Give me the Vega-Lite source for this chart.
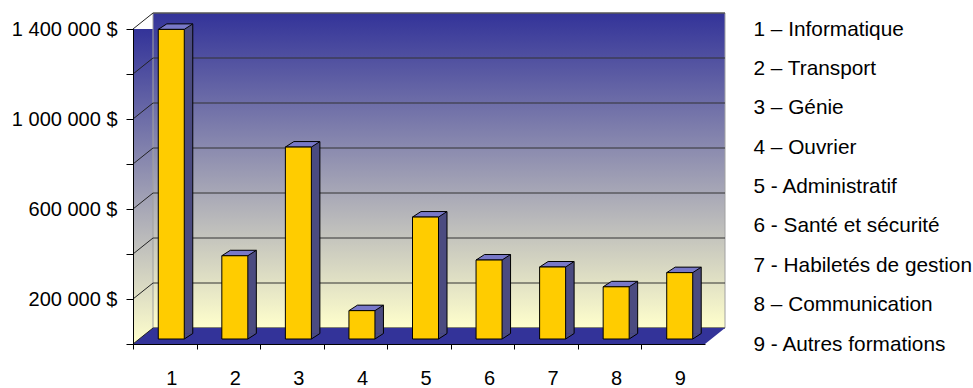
{
  "$schema": "https://vega.github.io/schema/vega-lite/v6.json",
  "width": 572,
  "height": 315,
  "autosize": {"type": "none"},
  "padding": {"left": 133, "top": 29, "right": 268, "bottom": 44},
  "background": "white",
  "config": {"view": {"stroke": null}, "font": "Liberation Sans"},
  "datasets": {
    "bars": [
      {"cat": 1, "value": 1376000},
      {"cat": 2, "value": 370000},
      {"cat": 3, "value": 853000},
      {"cat": 4, "value": 126000},
      {"cat": 5, "value": 542000},
      {"cat": 6, "value": 351000},
      {"cat": 7, "value": 320000},
      {"cat": 8, "value": 232000},
      {"cat": 9, "value": 295000}
    ],
    "ticks": [
      {"v": 0}, {"v": 200000}, {"v": 400000}, {"v": 600000},
      {"v": 800000}, {"v": 1000000}, {"v": 1200000}, {"v": 1400000}
    ],
    "one": [{"part": "wall"}],
    "legend": [
      {"label": "1 – Informatique"},
      {"label": "2 – Transport"},
      {"label": "3 – Génie"},
      {"label": "4 – Ouvrier"},
      {"label": "5 - Administratif"},
      {"label": "6 - Santé et sécurité"},
      {"label": "7 - Habiletés de gestion"},
      {"label": "8 – Communication"},
      {"label": "9 - Autres formations"}
    ]
  },
  "layer": [
    {
      "layer": [
        {
          "data": {"name": "one"},
          "mark": {"type": "rect", "fill": {"gradient": "linear", "x1": 0, "y1": 0, "x2": 0, "y2": 1, "stops": [{"offset": 0, "color": "#333399"}, {"offset": 1, "color": "#ffffcc"}]}},
          "encoding": {"x": {"datum": 0.5}, "x2": {"datum": 9.5}, "y": {"datum": 0}, "y2": {"datum": 1400000}}
        },
        {
          "data": {"name": "one"},
          "mark": {"type": "rect", "fill": {"gradient": "linear", "x1": 0, "y1": 0, "x2": 0, "y2": 1, "stops": [{"offset": 0, "color": "#333399"}, {"offset": 1, "color": "#ffffcc"}]}, "stroke": "#a0a0a0", "strokeWidth": 1, "xOffset": 20, "x2Offset": 20, "yOffset": -16, "y2Offset": -16},
          "encoding": {"x": {"datum": 0.5}, "x2": {"datum": 9.5}, "y": {"datum": 0}, "y2": {"datum": 1400000}}
        },
        {
          "data": {"name": "ticks"},
          "mark": {"type": "rule", "color": "#333333", "strokeWidth": 1, "xOffset": 20, "x2Offset": 20, "yOffset": -16},
          "encoding": {"x": {"datum": 0.5}, "x2": {"datum": 9.5}, "y": {"field": "v", "type": "quantitative"}}
        },
        {
          "data": {"name": "one"},
          "mark": {"type": "point", "shape": "M-2.86,0L2.86,0L3.06,-0.16L-2.66,-0.16Z", "size": 40000, "filled": true, "fill": "#333399", "opacity": 1, "strokeWidth": 0},
          "encoding": {"x": {"datum": 5}, "y": {"datum": 0}}
        },
        {
          "data": {"name": "ticks"},
          "mark": {"type": "point", "shape": "M0,0L1,-0.8", "size": 1600, "filled": false, "stroke": "#222222", "strokeWidth": 1, "opacity": 1},
          "encoding": {"x": {"datum": 0.5}, "y": {"field": "v", "type": "quantitative"}}
        },
        {
          "data": {"name": "bars"},
          "mark": {"type": "bar", "width": 26, "fill": "#4b4b80", "xOffset": 15, "yOffset": -10.5, "y2Offset": -10.5},
          "encoding": {"x": {"field": "cat", "type": "quantitative"}, "y": {"field": "value", "type": "quantitative"}}
        },
        {
          "data": {"name": "bars"},
          "mark": {"type": "point", "shape": "M0.65,0L1.075,-0.275L0.65,-0.275Z", "size": 1600, "filled": true, "fill": "#4b4b80", "opacity": 1, "strokeWidth": 0, "xOffset": 6.5, "yOffset": -5},
          "encoding": {"x": {"field": "cat", "type": "quantitative"}, "y": {"datum": 0}}
        },
        {
          "data": {"name": "bars"},
          "mark": {"type": "point", "shape": "M0.65,0L1.075,-0.275", "size": 1600, "filled": false, "stroke": "black", "strokeWidth": 1, "opacity": 1, "xOffset": 6.5, "yOffset": -5},
          "encoding": {"x": {"field": "cat", "type": "quantitative"}, "y": {"datum": 0}}
        },
        {
          "data": {"name": "bars"},
          "mark": {"type": "rule", "color": "black", "strokeWidth": 1, "xOffset": 28, "yOffset": -10.5, "y2Offset": -10.5},
          "encoding": {"x": {"field": "cat", "type": "quantitative"}, "y": {"field": "value", "type": "quantitative"}, "y2": {"datum": 0}}
        },
        {
          "data": {"name": "bars"},
          "mark": {"type": "point", "shape": "M-0.65,0L0.65,0L1.075,-0.275L-0.225,-0.275Z", "size": 1600, "filled": true, "fill": "#7878c8", "stroke": "black", "strokeWidth": 1, "opacity": 1, "xOffset": 6.5, "yOffset": -5},
          "encoding": {"x": {"field": "cat", "type": "quantitative"}, "y": {"field": "value", "type": "quantitative"}}
        },
        {
          "data": {"name": "bars"},
          "mark": {"type": "bar", "width": 26, "fill": "#ffcc00", "stroke": "black", "strokeWidth": 1, "xOffset": 6.5, "yOffset": -5, "y2Offset": -5},
          "encoding": {
            "x": {
              "field": "cat", "type": "quantitative",
              "scale": {"domain": [0.5, 9.5], "nice": false, "zero": false, "padding": 0},
              "axis": {"values": [1, 2, 3, 4, 5, 6, 7, 8, 9], "format": "d", "tickOffset": -31.78, "labelOffset": 38.3, "tickSize": 5, "tickColor": "black", "domainColor": "black", "labelPadding": 19, "labelFontSize": 20, "labelFont": "Liberation Sans", "labelColor": "black", "grid": false, "title": null, "zindex": 1}
            },
            "y": {
              "field": "value", "type": "quantitative",
              "scale": {"domain": [0, 1400000], "nice": false, "zero": true},
              "axis": {"values": [0, 200000, 400000, 600000, 800000, 1000000, 1200000, 1400000], "labelExpr": "datum.value % 400000 == 200000 ? replace(format(datum.value, ',d'), regexp(',', 'g'), ' ') + ' $' : ''", "tickSize": 7, "tickColor": "black", "domainColor": "black", "labelPadding": 9, "labelFontSize": 20, "labelFont": "Liberation Sans", "labelColor": "black", "grid": false, "title": null, "zindex": 1}
            }
          }
        }
      ]
    },
    {
      "data": {"name": "legend"},
      "mark": {"type": "point", "opacity": 0},
      "encoding": {
        "y": {
          "field": "label", "type": "nominal", "sort": null,
          "scale": {"type": "point", "padding": 0},
          "axis": {"orient": "right", "offset": 46, "labelPadding": 2, "ticks": false, "domain": false, "labelAlign": "left", "labelBaseline": "middle", "labelFontSize": 20.8, "labelFont": "Liberation Sans", "labelColor": "black", "labelLimit": 400, "title": null}
        }
      }
    }
  ],
  "resolve": {"scale": {"y": "independent"}}
}
